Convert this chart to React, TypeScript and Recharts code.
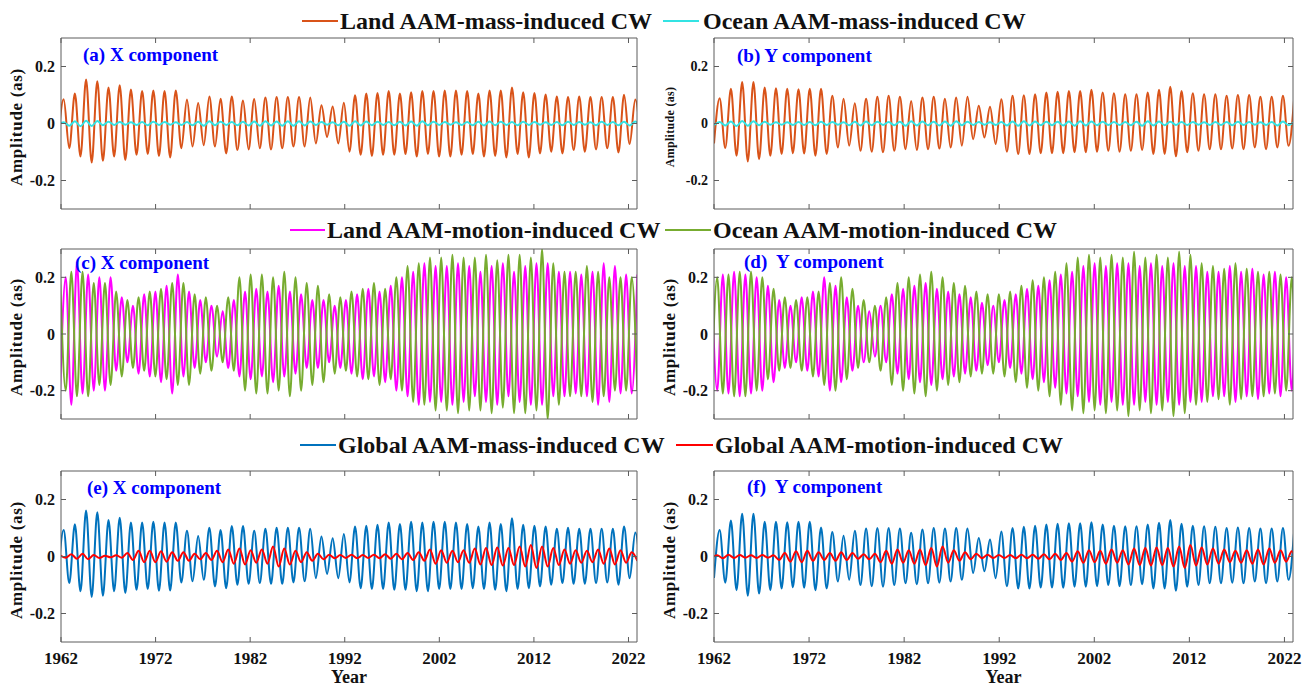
import React from "react";
import { LineChart, Line, XAxis, YAxis } from "recharts";

const SERIF = '"Liberation Serif", "Times New Roman", serif';
const BOX = "#5c5c5c";

// Chandler wobble: extrema every half period (~433 days / 2), in years
const HALF = 0.5925;
const YEAR_MIN = 1962;
const YEAR_MAX = 2022.9;
const yearTicks = [1962, 1972, 1982, 1992, 2002, 2012, 2022];
const ampTicks = [-0.2, 0, 0.2];

// ---- values (as) ----
// (a) Land AAM-mass-induced, X: peaks and troughs
const landMassXPeaks = [
  0.085, 0.105, 0.154, 0.148, 0.126, 0.134, 0.119, 0.114, 0.116, 0.114,
  0.116, 0.084, 0.072, 0.095, 0.087, 0.095, 0.081, 0.086, 0.091, 0.093,
  0.093, 0.093, 0.091, 0.064, 0.06, 0.073, 0.099, 0.105, 0.107, 0.114,
  0.105, 0.11, 0.114, 0.114, 0.116, 0.116, 0.114, 0.105, 0.116, 0.116,
  0.126, 0.11, 0.107, 0.102, 0.095, 0.093, 0.095, 0.093, 0.093, 0.093,
  0.101, 0.084,
];
const landMassXTroughs = [
  -0.06, -0.087, -0.116, -0.137, -0.131, -0.116, -0.128, -0.11, -0.107, -0.114, -0.119,
  -0.087, -0.081, -0.076, -0.081, -0.105, -0.093, -0.091, -0.087, -0.091, -0.087,
  -0.081, -0.081, -0.07, -0.047, -0.07, -0.099, -0.11, -0.114, -0.11, -0.11,
  -0.107, -0.116, -0.107, -0.116, -0.116, -0.11, -0.107, -0.116, -0.114, -0.119,
  -0.107, -0.119, -0.105, -0.099, -0.105, -0.093, -0.099, -0.091, -0.087, -0.102,
  -0.072, -0.07,
];
// (b) Land AAM-mass-induced, Y
const landMassYPeaks = [
  0.089, 0.122, 0.146, 0.146, 0.126, 0.124, 0.122, 0.12, 0.122, 0.122,
  0.097, 0.087, 0.071, 0.087, 0.094, 0.097, 0.094, 0.079, 0.091, 0.094,
  0.087, 0.091, 0.094, 0.062, 0.059, 0.085, 0.097, 0.099, 0.103, 0.109,
  0.111, 0.114, 0.114, 0.118, 0.109, 0.106, 0.103, 0.103, 0.109, 0.118,
  0.129, 0.114, 0.106, 0.103, 0.103, 0.097, 0.1, 0.1, 0.094, 0.094,
  0.097, 0.09,
];
const landMassYTroughs = [
  -0.07, -0.086, -0.113, -0.133, -0.125, -0.113, -0.107, -0.104, -0.105, -0.113, -0.107,
  -0.084, -0.078, -0.096, -0.099, -0.101, -0.096, -0.09, -0.093, -0.09, -0.088,
  -0.084, -0.078, -0.055, -0.049, -0.072, -0.099, -0.107, -0.107, -0.104, -0.104,
  -0.104, -0.101, -0.101, -0.099, -0.096, -0.099, -0.096, -0.093, -0.107, -0.107,
  -0.115, -0.101, -0.096, -0.09, -0.09, -0.088, -0.09, -0.084, -0.09, -0.084,
  -0.078,
];
// Ocean AAM-mass-induced: amplitude per cycle
const oceanMassX = [
  0.004, 0.008, 0.01, 0.009, 0.006, 0.005, 0.004, 0.005, 0.006, 0.005,
  0.004, 0.005, 0.006, 0.008, 0.006, 0.005, 0.006, 0.007, 0.008, 0.007,
  0.008, 0.008, 0.007, 0.005, 0.004, 0.006, 0.008, 0.007, 0.006, 0.005,
  0.006, 0.007, 0.008, 0.006, 0.005, 0.004, 0.005, 0.006, 0.007, 0.006,
  0.005, 0.006, 0.005, 0.004, 0.005, 0.006, 0.005, 0.004, 0.006, 0.005,
  0.006, 0.007, 0.006,
];
const oceanMassY = [
  0.005, 0.007, 0.009, 0.008, 0.006, 0.004, 0.004, 0.005, 0.005, 0.006,
  0.005, 0.004, 0.006, 0.007, 0.006, 0.005, 0.006, 0.008, 0.007, 0.006,
  0.007, 0.008, 0.006, 0.005, 0.004, 0.005, 0.007, 0.008, 0.007, 0.006,
  0.006, 0.007, 0.008, 0.007, 0.006, 0.005, 0.005, 0.006, 0.008, 0.007,
  0.006, 0.005, 0.005, 0.004, 0.005, 0.005, 0.006, 0.005, 0.004, 0.005,
  0.007, 0.006,
];
// (c)/(d) motion-induced: amplitude per cycle
const landMotionX = [
  0.2, 0.25, 0.21, 0.2, 0.2, 0.13, 0.1, 0.14, 0.15, 0.17,
  0.21, 0.15, 0.12, 0.1, 0.08, 0.12, 0.15, 0.16, 0.15, 0.17,
  0.15, 0.14, 0.12, 0.12, 0.1, 0.12, 0.14, 0.16, 0.15, 0.17,
  0.2, 0.22, 0.25, 0.24, 0.24, 0.25, 0.24, 0.22, 0.24, 0.25,
  0.22, 0.24, 0.25, 0.25, 0.22, 0.22, 0.21, 0.22, 0.25, 0.24,
  0.21, 0.21,
];
const oceanMotionX = [
  0.2, 0.22, 0.22, 0.18, 0.18, 0.15, 0.12, 0.13, 0.15, 0.16,
  0.18, 0.18, 0.14, 0.13, 0.1, 0.13, 0.2, 0.21, 0.21, 0.2,
  0.22, 0.2, 0.18, 0.17, 0.14, 0.13, 0.15, 0.16, 0.18, 0.16,
  0.2, 0.24, 0.25, 0.27, 0.27, 0.28, 0.27, 0.27, 0.28, 0.26,
  0.28, 0.28, 0.27, 0.3, 0.25, 0.22, 0.22, 0.24, 0.22, 0.2,
  0.2, 0.2,
];
const landMotionY = [
  0.2, 0.21, 0.22, 0.21, 0.2, 0.17, 0.12, 0.1, 0.13, 0.15,
  0.2, 0.17, 0.13, 0.1, 0.08, 0.1, 0.14, 0.16, 0.17, 0.18,
  0.16, 0.15, 0.14, 0.13, 0.11, 0.1, 0.12, 0.14, 0.16, 0.17,
  0.19, 0.21, 0.22, 0.24, 0.25, 0.24, 0.25, 0.25, 0.24, 0.25,
  0.24, 0.25, 0.24, 0.24, 0.22, 0.22, 0.24, 0.22, 0.23, 0.21,
  0.22, 0.2, 0.2,
];
const oceanMotionY = [
  0.2, 0.21, 0.22, 0.22, 0.2, 0.16, 0.13, 0.12, 0.13, 0.15,
  0.18, 0.2, 0.16, 0.12, 0.1, 0.13, 0.18, 0.2, 0.21, 0.22,
  0.2, 0.18, 0.17, 0.15, 0.14, 0.14, 0.15, 0.17, 0.19, 0.2,
  0.22, 0.25, 0.27, 0.28, 0.27, 0.28, 0.27, 0.29, 0.27, 0.28,
  0.27, 0.29, 0.28, 0.25, 0.24, 0.23, 0.25, 0.23, 0.22, 0.22,
  0.21, 0.2, 0.2,
];
// (e)/(f) Global AAM-mass-induced
const globalMassXPeaks = [
  0.093, 0.113, 0.161, 0.155, 0.128, 0.136, 0.119, 0.119, 0.122, 0.119,
  0.119, 0.09, 0.072, 0.101, 0.093, 0.107, 0.107, 0.09, 0.097, 0.101,
  0.101, 0.101, 0.097, 0.07, 0.064, 0.079, 0.105, 0.108, 0.111, 0.119,
  0.114, 0.122, 0.119, 0.122, 0.122, 0.119, 0.114, 0.105, 0.119, 0.114,
  0.134, 0.111, 0.108, 0.105, 0.097, 0.101, 0.097, 0.097, 0.097, 0.097,
  0.105, 0.084,
];
const globalMassXTroughs = [
  -0.065, -0.093, -0.122, -0.142, -0.138, -0.122, -0.128, -0.117, -0.114, -0.12, -0.119,
  -0.091, -0.087, -0.082, -0.105, -0.111, -0.099, -0.096, -0.093, -0.096, -0.096,
  -0.091, -0.087, -0.076, -0.061, -0.076, -0.091, -0.111, -0.114, -0.114, -0.117,
  -0.117, -0.122, -0.122, -0.114, -0.114, -0.114, -0.111, -0.114, -0.117, -0.122,
  -0.114, -0.111, -0.105, -0.099, -0.093, -0.096, -0.096, -0.093, -0.091, -0.099,
  -0.076, -0.07,
];
const globalMassYPeaks = [
  0.093, 0.126, 0.15, 0.15, 0.122, 0.122, 0.12, 0.122, 0.122, 0.102,
  0.086, 0.073, 0.09, 0.098, 0.1, 0.1, 0.098, 0.083, 0.095, 0.1,
  0.098, 0.1, 0.098, 0.065, 0.06, 0.088, 0.1, 0.104, 0.108, 0.112,
  0.115, 0.117, 0.117, 0.12, 0.112, 0.108, 0.106, 0.106, 0.112, 0.118,
  0.128, 0.115, 0.108, 0.106, 0.104, 0.1, 0.102, 0.1, 0.098, 0.098,
  0.1, 0.092,
];
const globalMassYTroughs = [
  -0.075, -0.092, -0.118, -0.138, -0.13, -0.118, -0.112, -0.108, -0.11, -0.118, -0.112,
  -0.088, -0.082, -0.1, -0.104, -0.106, -0.1, -0.094, -0.097, -0.094, -0.092,
  -0.088, -0.082, -0.058, -0.052, -0.076, -0.104, -0.112, -0.112, -0.109, -0.109,
  -0.11, -0.106, -0.106, -0.104, -0.1, -0.104, -0.1, -0.097, -0.112, -0.112,
  -0.12, -0.106, -0.1, -0.094, -0.094, -0.092, -0.094, -0.088, -0.094, -0.088,
  -0.082,
];
// Global AAM-motion-induced: amplitude per cycle
const globalMotionX = [
  0.004, 0.008, 0.01, 0.005, 0.003, 0.004, 0.012, 0.02, 0.02, 0.018,
  0.015, 0.015, 0.01, 0.012, 0.02, 0.025, 0.028, 0.022, 0.025, 0.035,
  0.028, 0.02, 0.015, 0.01, 0.006, 0.005, 0.006, 0.005, 0.006, 0.008,
  0.01, 0.012, 0.015, 0.025, 0.022, 0.02, 0.022, 0.028, 0.03, 0.032,
  0.03, 0.035, 0.04, 0.035, 0.03, 0.025, 0.022, 0.02, 0.025, 0.028,
  0.022, 0.015,
];
const globalMotionY = [
  0.004, 0.006, 0.005, 0.004, 0.005, 0.004, 0.012, 0.018, 0.02, 0.015,
  0.012, 0.015, 0.012, 0.008, 0.01, 0.02, 0.025, 0.022, 0.025, 0.03,
  0.035, 0.022, 0.015, 0.01, 0.006, 0.005, 0.005, 0.006, 0.006, 0.008,
  0.01, 0.012, 0.018, 0.022, 0.02, 0.025, 0.022, 0.028, 0.03, 0.032,
  0.03, 0.035, 0.04, 0.032, 0.028, 0.025, 0.02, 0.022, 0.025, 0.028,
  0.022, 0.018, 0.015,
];

type Pt = { t: number; v: number };

// troughs and peaks alternate every half period, first trough at t0
function alternate(t0: number, lows: number[], highs: number[]): Pt[] {
  const out: Pt[] = [];
  const n = Math.max(lows.length, highs.length);
  for (let i = 0; i < n; i++) {
    if (i < lows.length) out.push({ t: t0 + 2 * i * HALF, v: lows[i] });
    if (i < highs.length) out.push({ t: t0 + (2 * i + 1) * HALF, v: highs[i] });
  }
  return out;
}

// one amplitude per cycle, first extremum has the given sign
function cycles(t0: number, amps: number[], first: number): Pt[] {
  return amps.flatMap((a, i) => [
    { t: t0 + 2 * i * HALF, v: first * a },
    { t: t0 + (2 * i + 1) * HALF, v: -first * a },
  ]);
}

const C = {
  land: "#D95319",
  ocean: "#33E3E3",
  landMo: "#FF00FF",
  oceanMo: "#77AC30",
  global: "#0072BD",
  globalMo: "#FF0000",
};

const leftTick = (fs: number) => (p: any) => (
  <g>
    <text x={p.x} y={p.y} dy="0.35em" textAnchor="end" fontSize={fs} fontWeight="bold" fontFamily={SERIF} fill="#111">
      {String(p.payload.value)}
    </text>
    <line x1={p.x + 6} x2={p.x + 11} y1={p.y} y2={p.y} stroke={BOX} />
  </g>
);
const rightTick = (p: any) => <line x1={p.x - 5} x2={p.x} y1={p.y} y2={p.y} stroke={BOX} />;
const topTick = (p: any) => <line x1={p.x} x2={p.x} y1={p.y} y2={p.y + 5} stroke={BOX} />;
const bottomTick = (labels: boolean) => (p: any) => (
  <g>
    <line x1={p.x} x2={p.x} y1={p.y} y2={p.y - 5} stroke={BOX} />
    {labels && (
      <text x={p.x} y={p.y + 22} textAnchor="middle" fontSize={17} fontWeight="bold" fontFamily={SERIF} fill="#111">
        {p.payload.value}
      </text>
    )}
  </g>
);

type PanelProps = {
  x: number;
  y: number;
  w: number;
  h: number;
  series: { pts: Pt[]; color: string }[];
  tag: string;
  tagX: number;
  tagY: number;
  years?: boolean;
  labelSize?: number;
  tickFont?: number;
};

function Panel({ x, y, w, h, series, tag, tagX, tagY, years = false, labelSize = 17, tickFont = 16 }: PanelProps) {
  const ML = 61, MT = 6, MR = 18;
  const MB = years ? 34 : 6;
  const XB = years ? 32 : 1;
  return (
    <>
      <div style={{ position: "absolute", left: x - ML, top: y - MT }}>
        <LineChart width={w + ML + MR} height={h + MT + MB} margin={{ top: MT - 1, right: MR - 1, bottom: MB - XB, left: 0 }}>
          <XAxis xAxisId="b" dataKey="t" type="number" domain={[YEAR_MIN, YEAR_MAX]} allowDataOverflow ticks={yearTicks} interval={0}
            height={XB} stroke={BOX} tickLine={false} tickSize={0} tickMargin={0} tick={bottomTick(years)} />
          <XAxis xAxisId="t" orientation="top" dataKey="t" type="number" domain={[YEAR_MIN, YEAR_MAX]} allowDataOverflow ticks={yearTicks} interval={0}
            height={1} stroke={BOX} tickLine={false} tickSize={0} tickMargin={0} tick={topTick} />
          <YAxis yAxisId="l" type="number" domain={[-0.3, 0.3]} allowDataOverflow ticks={ampTicks} interval={0}
            width={ML} stroke={BOX} tickLine={false} tickSize={0} tickMargin={6} tick={leftTick(tickFont)} />
          <YAxis yAxisId="r" orientation="right" type="number" domain={[-0.3, 0.3]} allowDataOverflow ticks={ampTicks} interval={0}
            width={1} stroke={BOX} tickLine={false} tickSize={0} tickMargin={0} tick={rightTick} />
          {series.map((s, i) => (
            <Line key={i} xAxisId="b" yAxisId="l" data={s.pts} dataKey="v" type="monotone" stroke={s.color}
              strokeWidth={2} dot={false} isAnimationActive={false} />
          ))}
        </LineChart>
      </div>
      <div style={{
        position: "absolute", left: x - 44, top: y + h / 2 + 3, transform: "translate(-50%, -50%) rotate(-90deg)",
        whiteSpace: "nowrap", fontFamily: SERIF, fontWeight: "bold", fontSize: labelSize, letterSpacing: labelSize > 14 ? 0.7 : 0.3, color: "#111",
      }}>
        Amplitude (as)
      </div>
      <div style={{
        position: "absolute", left: tagX, top: tagY - 12, lineHeight: "24px", whiteSpace: "pre",
        fontFamily: SERIF, fontWeight: "bold", fontSize: 19, color: "#0000FF",
      }}>
        {tag}
      </div>
      {years && (
        <div style={{
          position: "absolute", left: x + w / 2, top: 677, transform: "translate(-50%, -50%)", lineHeight: "18px",
          fontFamily: SERIF, fontWeight: "bold", fontSize: 18, color: "#111",
        }}>
          Year
        </div>
      )}
    </>
  );
}

function LegendItem({ x0, x1, tx, y, color, text }: { x0: number; x1: number; tx: number; y: number; color: string; text: string }) {
  return (
    <>
      <div style={{ position: "absolute", left: x0, top: y - 1, width: x1 - x0, height: 2, background: color }} />
      <div style={{
        position: "absolute", left: tx, top: y - 15, lineHeight: "30px", whiteSpace: "nowrap",
        fontFamily: SERIF, fontWeight: "bold", fontSize: 24, color: "#111",
      }}>
        {text}
      </div>
    </>
  );
}

export default function App() {
  const LX = 61, RX = 714, LW = 576, RW = 579;
  return (
    <div style={{ position: "fixed", left: 0, top: 0, width: 1311, height: 687, background: "#fff", overflow: "hidden" }}>
      <LegendItem x0={302} x1={338} tx={340} y={21} color={C.land} text="Land AAM-mass-induced CW" />
      <LegendItem x0={663} x1={699} tx={703} y={21} color={C.ocean} text="Ocean AAM-mass-induced CW" />
      <LegendItem x0={290} x1={325} tx={327} y={230} color={C.landMo} text="Land AAM-motion-induced CW" />
      <LegendItem x0={665} x1={711} tx={713} y={230} color={C.oceanMo} text="Ocean AAM-motion-induced CW" />
      <LegendItem x0={300} x1={336} tx={338} y={445} color={C.global} text="Global AAM-mass-induced CW" />
      <LegendItem x0={676} x1={713} tx={715} y={445} color={C.globalMo} text="Global AAM-motion-induced CW" />

      <Panel x={LX} y={38} w={LW} h={171} tag="(a) X component" tagX={83} tagY={55}
        series={[
          { pts: alternate(1961.69, landMassXTroughs, landMassXPeaks), color: C.land },
          { pts: cycles(1961.69, oceanMassX, -1), color: C.ocean },
        ]} />
      <Panel x={RX} y={38} w={RW} h={171} tag="(b) Y component" tagX={737} tagY={56} labelSize={12} tickFont={14}
        series={[
          { pts: alternate(1962.0, landMassYTroughs, landMassYPeaks), color: C.land },
          { pts: cycles(1962.0, oceanMassY, -1), color: C.ocean },
        ]} />
      <Panel x={LX} y={249} w={LW} h={170} tag="(c) X component" tagX={75} tagY={263}
        series={[
          { pts: cycles(1961.9075, landMotionX, -1), color: C.landMo },
          { pts: cycles(1961.9075, oceanMotionX, 1), color: C.oceanMo },
        ]} />
      <Panel x={RX} y={249} w={RW} h={170} tag="(d)  Y component" tagX={744} tagY={262}
        series={[
          { pts: cycles(1961.745, landMotionY, 1), color: C.landMo },
          { pts: cycles(1961.745, oceanMotionY, -1), color: C.oceanMo },
        ]} />
      <Panel x={LX} y={471} w={LW} h={171} tag="(e) X component" tagX={87} tagY={488} years
        series={[
          { pts: alternate(1961.69, globalMassXTroughs, globalMassXPeaks), color: C.global },
          { pts: cycles(1961.9075, globalMotionX, 1), color: C.globalMo },
        ]} />
      <Panel x={RX} y={471} w={RW} h={171} tag="(f)  Y component" tagX={747} tagY={487} years
        series={[
          { pts: alternate(1962.0, globalMassYTroughs, globalMassYPeaks), color: C.global },
          { pts: cycles(1961.745, globalMotionY, -1), color: C.globalMo },
        ]} />
    </div>
  );
}
